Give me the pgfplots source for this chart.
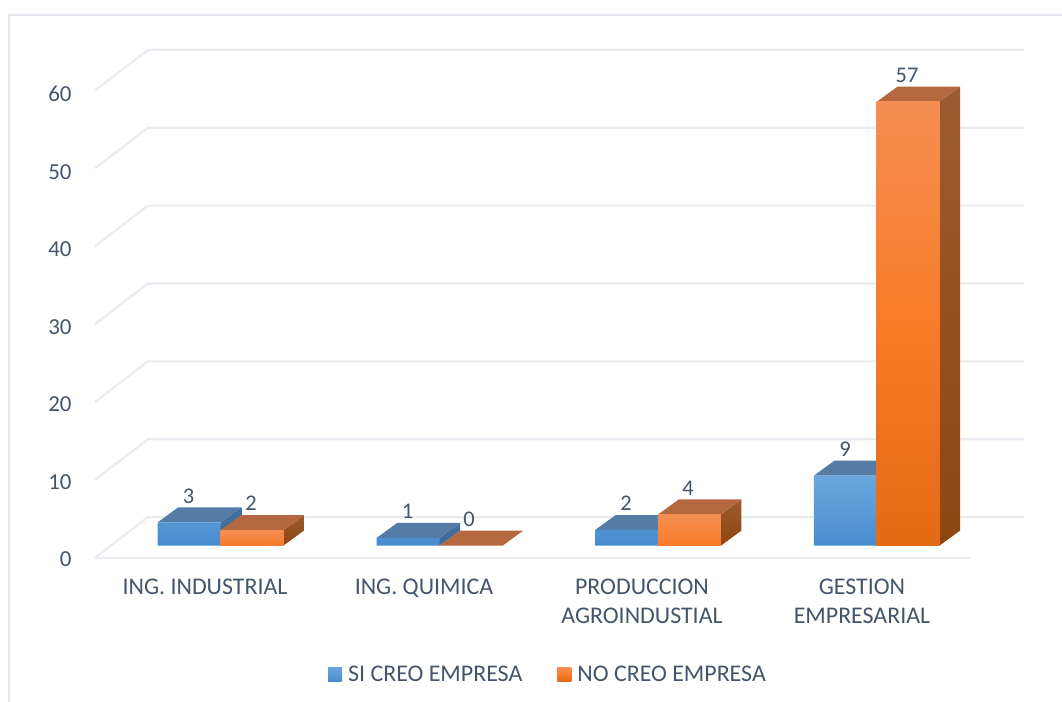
\documentclass[border=0pt]{standalone}
\usepackage{pgfplots}
\pgfplotsset{compat=1.18}
\usepackage{fontspec}
\setmainfont{Carlito}
\definecolor{txt}{HTML}{44546A}
\definecolor{gridc}{HTML}{E8EBF0}
\definecolor{frm}{HTML}{E4E8EE}
\definecolor{bt}{HTML}{6AA5DE}
\definecolor{bb}{HTML}{458BCE}
\definecolor{bm}{HTML}{5B9BD8}
\definecolor{bface}{HTML}{547CA6}
\definecolor{bsa}{HTML}{44719E}
\definecolor{bsb}{HTML}{386A9C}
\definecolor{ot}{HTML}{F48E52}
\definecolor{om}{HTML}{F97B28}
\definecolor{ob}{HTML}{E46A14}
\definecolor{oface}{HTML}{B5683F}
\definecolor{osa}{HTML}{9C5B30}
\definecolor{osb}{HTML}{8E4610}
\pgfplotsset{
  glin/.style={draw=gridc,line width=2.2bp,forget plot,mark=none},
  bfront/.style={ybar,bar width=63,bar shift=0pt,draw=none,top color=bt,bottom color=bb,middle color=bm},
  ofront/.style={ybar,bar width=63,bar shift=0pt,draw=none,top color=ot,bottom color=ob,middle color=om},
  osmall/.style={ybar,bar width=63,bar shift=0pt,draw=none,top color=ot,bottom color=om,forget plot},
  lab/.style={draw=none,mark=none,forget plot,point meta=y,nodes near coords,
    /pgf/number format/assume math mode=true,
    every node near coord/.append style={anchor=center,yshift=26.5bp,text=txt,font=\fontsize{22.5}{26}\selectfont,inner sep=0pt}},
}
\begin{document}
\begin{tikzpicture}
\begin{axis}[
  scale only axis,width=1062bp,height=702bp,
  xmin=0,xmax=1062,ymin=-20.07,ymax=70.06,
  clip=false,
  axis line style={draw=none},
  major tick length=0pt,
  xtick={205,424,642,862},
  xticklabels={ING. INDUSTRIAL,ING. QUIMICA,PRODUCCION\\AGROINDUSTIAL,GESTION\\EMPRESARIAL},
  xticklabel style={anchor=north,yshift=127bp,align=center,text=txt,font=\fontsize{24}{30}\selectfont},
  ytick={-1.72,8.22,18.17,28.11,38.06,48.0,57.95},
  yticklabels={0,10,20,30,40,50,60},
  yticklabel style={anchor=east,xshift=75bp,text=txt,font=\fontsize{23}{26}\selectfont},
  legend style={at={(axis cs:548,-16.5)},anchor=center,draw=none,fill=none,legend columns=2,
    font=\fontsize{24}{28}\selectfont,text=txt,
    /tikz/every even column/.style={column sep=33bp},
    /tikz/every odd column/.style={column sep=4bp},inner sep=0pt},
  legend image code/.code={\path[#1] (0bp,-7bp) rectangle (14bp,7bp);},
]
% frame
\addplot[draw=frm,line width=2bp,forget plot] coordinates {(9,-20.07)(9,68.13)(1062,68.13)};
% grid
\addplot[glin] coordinates {(95,-1.55)(970,-1.55)};
\addplot[glin] coordinates {(95,-1.55)(148,3.66)(1024,3.66)};
\addplot[glin] coordinates {(95,8.45)(148,13.66)(1024,13.66)};
\addplot[glin] coordinates {(95,18.45)(148,23.66)(1024,23.66)};
\addplot[glin] coordinates {(95,28.45)(148,33.66)(1024,33.66)};
\addplot[glin] coordinates {(95,38.45)(148,43.66)(1024,43.66)};
\addplot[glin] coordinates {(95,48.45)(148,53.66)(1024,53.66)};
\addplot[glin] coordinates {(95,58.45)(148,63.66)(1024,63.66)};
% SI CREO EMPRESA: sides
\addplot[draw=none,forget plot,top color=bsa,bottom color=bsb] coordinates {(220.7,0)(220.7,3)(241.3,4.93)(241.3,1.93)};
\addplot[draw=none,forget plot,top color=bsa,bottom color=bsb] coordinates {(439.4,0)(439.4,1)(460,2.93)(460,1.93)};
\addplot[draw=none,forget plot,top color=bsa,bottom color=bsb] coordinates {(658,0)(658,2)(678.6,3.93)(678.6,1.93)};
\addplot[draw=none,forget plot,top color=bsa,bottom color=bsb] coordinates {(876.8,0)(876.8,9)(897.4,10.93)(897.4,1.93)};
% tops
\addplot[draw=none,forget plot,fill=bface] coordinates {(157.7,3)(220.7,3)(241.3,4.93)(178.3,4.93)};
\addplot[draw=none,forget plot,fill=bface] coordinates {(376.7,1)(439.4,1)(460,2.93)(397.3,2.93)};
\addplot[draw=none,forget plot,fill=bface] coordinates {(595,2)(658,2)(678.6,3.93)(615.6,3.93)};
\addplot[draw=none,forget plot,fill=bface] coordinates {(814,9)(876.8,9)(897.4,10.93)(834.6,10.93)};
% fronts
\addplot[bfront] coordinates {(189.2,3)(408,1)(626.5,2)(845.4,9)};
\addlegendentry{SI CREO EMPRESA}
% NO CREO EMPRESA: sides
\addplot[draw=none,forget plot,top color=osa,bottom color=osb] coordinates {(283.3,0)(283.3,2)(303.9,3.93)(303.9,1.93)};
\addplot[draw=none,forget plot,top color=osa,bottom color=osb] coordinates {(720.8,0)(720.8,4)(741.4,5.93)(741.4,1.93)};
\addplot[draw=none,forget plot,top color=osa,bottom color=osb] coordinates {(939.4,0)(939.4,57)(960,58.93)(960,1.93)};
% tops
\addplot[draw=none,forget plot,fill=oface] coordinates {(220.7,2)(283.3,2)(303.9,3.93)(241.3,3.93)};
\addplot[draw=none,forget plot,fill=oface] coordinates {(439.4,0)(502.6,0)(523.2,1.93)(460,1.93)};
\addplot[draw=none,forget plot,fill=oface] coordinates {(658,4)(720.8,4)(741.4,5.93)(678.6,5.93)};
\addplot[draw=none,forget plot,fill=oface] coordinates {(876.8,57)(939.4,57)(960,58.93)(897.4,58.93)};
% fronts
\addplot[osmall] coordinates {(252,2)};
\addplot[osmall] coordinates {(689.4,4)};
\addplot[ofront] coordinates {(908.1,57)};
\addlegendentry{NO CREO EMPRESA}
% data labels
\addplot[lab] coordinates {(188.5,3)(407.5,1)(626,2)(845,9)};
\addplot[lab] coordinates {(251,2)(469,0)(688,4)(907,57)};
\end{axis}
\pgfresetboundingbox
\useasboundingbox (0,0) rectangle (1062bp,702bp);
\end{tikzpicture}
\end{document}
